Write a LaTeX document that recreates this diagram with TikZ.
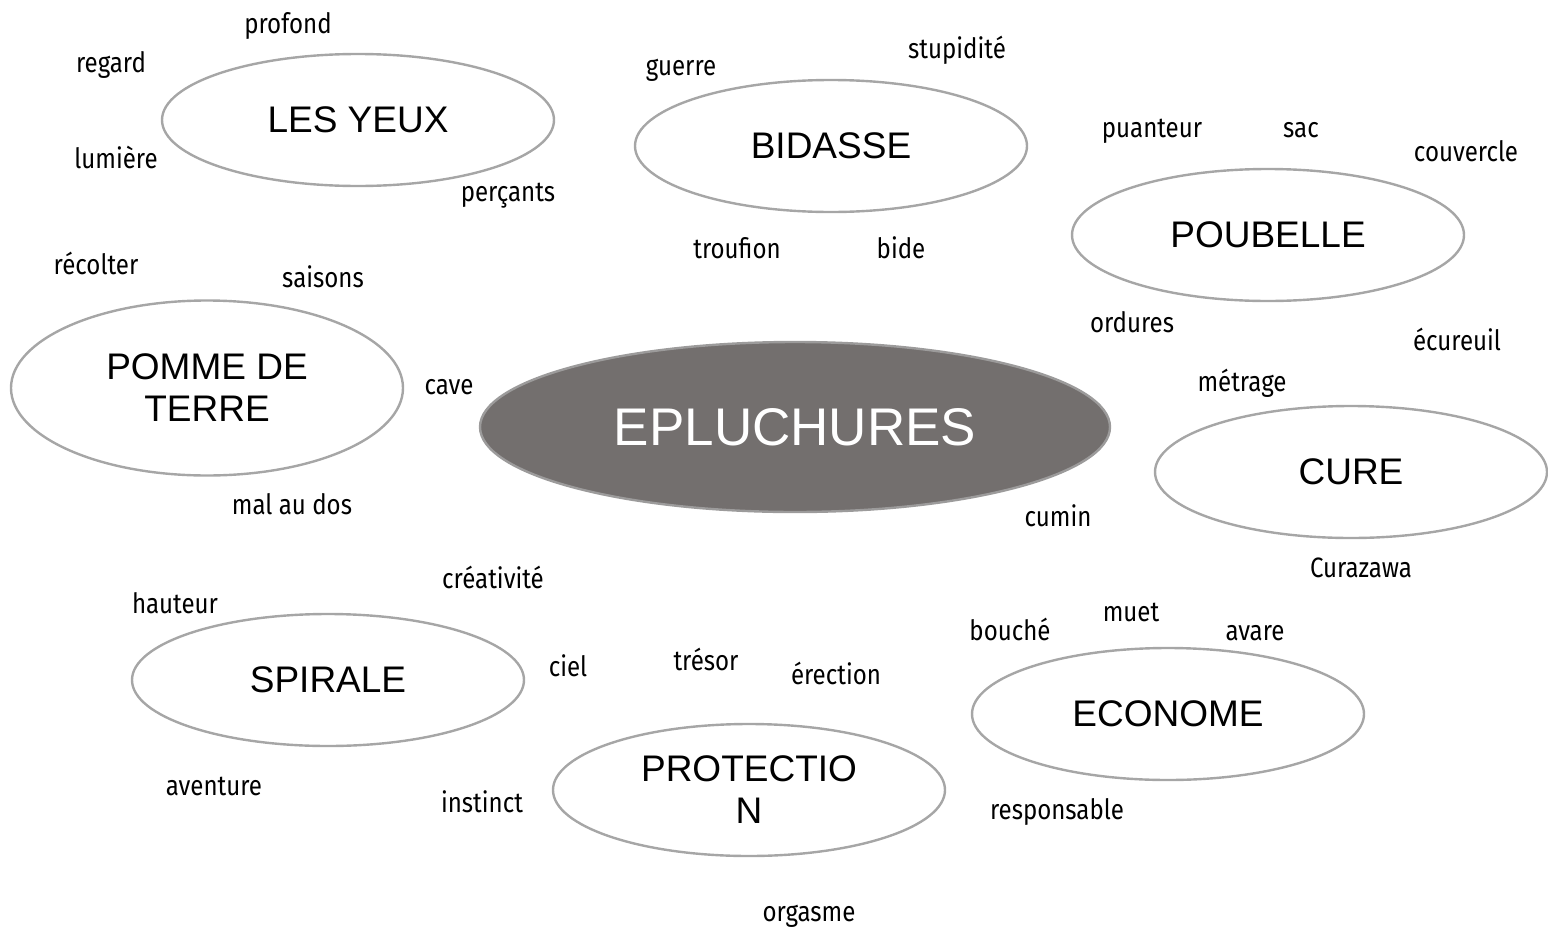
\documentclass[tikz,border=0pt]{standalone}
\usepackage{fontspec}
\usetikzlibrary{shapes.geometric}
\newfontfamily\labelfont{Liberation Sans}
\newfontfamily\wordfont[FakeStretch=0.86]{Fira Sans}
\definecolor{rimgray}{HTML}{A6A6A6}
\definecolor{hubgray}{HTML}{736F6E}
\tikzset{
  bubble/.style={ellipse, draw=rimgray, line width=2.4pt, fill=white, inner sep=0pt,
    minimum width=392pt, minimum height=132pt, align=center,
    font=\labelfont\fontsize{37}{42}\selectfont, text=black},
  hub/.style={ellipse, draw=rimgray!80!hubgray, line width=2.4pt, fill=hubgray, inner sep=0pt,
    minimum width=630pt, minimum height=170pt,
    font=\labelfont\fontsize{53}{60}\selectfont, text=white},
  word/.style={inner sep=0pt, text height=0.62em, text depth=0.12em, yshift=-7pt,
    font=\wordfont\fontsize{28}{32}\selectfont, text=black}
}
\begin{document}
\begin{tikzpicture}[x=1pt,y=-1pt]
\useasboundingbox (0,0) rectangle (1548,932);
% central node
\node[hub] (eplu) at (795,427) {EPLUCHURES};
% satellite bubbles
\node[bubble] (yeux) at (358,120) {LES YEUX};
\node[bubble] (bidasse) at (831,146) {BIDASSE};
\node[bubble] (poubelle) at (1268,235) {POUBELLE};
\node[bubble, minimum height=175pt] (pomme) at (207,388) {POMME DE\\TERRE};
\node[bubble] (cure) at (1351,472) {CURE};
\node[bubble] (spirale) at (328,680) {SPIRALE};
\node[bubble] (econome) at (1168,714) {ECONOME};
\node[bubble] (protection) at (749,790) {PROTECTIO\\N};
% words
\node[word] (w1) at (288,24) {profond};
\node[word] (w2) at (111,63) {regard};
\node[word] (w3) at (116,159) {lumière};
\node[word] (w4) at (508,192) {perçants};
\node[word] (w5) at (681,66) {guerre};
\node[word] (w6) at (957,49) {stupidité};
\node[word] (w7) at (737,249) {troufion};
\node[word] (w8) at (901,249) {bide};
\node[word] (w9) at (1152,128) {puanteur};
\node[word] (w10) at (1301,128) {sac};
\node[word] (w11) at (1466,152) {couvercle};
\node[word] (w12) at (96,265) {récolter};
\node[word] (w13) at (323,278) {saisons};
\node[word] (w14) at (449,385) {cave};
\node[word] (w15) at (292,505) {mal au dos};
\node[word] (w16) at (1132,323) {ordures};
\node[word] (w17) at (1457,341) {écureuil};
\node[word] (w18) at (1242,382) {métrage};
\node[word] (w19) at (1058,517) {cumin};
\node[word] (w20) at (1361,568) {Curazawa};
\node[word] (w21) at (493,579) {créativité};
\node[word] (w22) at (175,604) {hauteur};
\node[word] (w23) at (568,667) {ciel};
\node[word] (w24) at (706,661) {trésor};
\node[word] (w25) at (836,675) {érection};
\node[word] (w26) at (1010,631) {bouché};
\node[word] (w27) at (1131,612) {muet};
\node[word] (w28) at (1255,631) {avare};
\node[word] (w29) at (214,786) {aventure};
\node[word] (w30) at (482,803) {instinct};
\node[word] (w31) at (1057,810) {responsable};
\node[word] (w32) at (809,912) {orgasme};
\end{tikzpicture}
\end{document}
